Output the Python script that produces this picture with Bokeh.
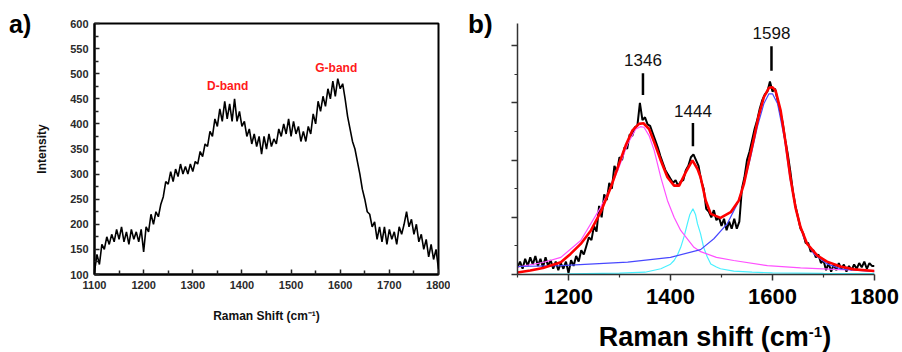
from bokeh.plotting import figure
from bokeh.layouts import row
from bokeh.models import Range1d, FixedTicker, Label, Div, CustomLabelingPolicy
from bokeh.embed import file_html
from bokeh.resources import INLINE

# ---------------- Panel a data ----------------
a_shift = list(range(1100, 1801, 5))
a_intensity = [
    105, 140, 120, 160, 150, 175, 160, 180, 165, 190,
    170, 195, 165, 185, 160, 190, 170, 185, 165, 190,
    145, 195, 185, 220, 200, 225, 215, 240, 255, 285,
    280, 305, 285, 310, 295, 320, 300, 315, 300, 320,
    305, 325, 320, 345, 335, 360, 355, 385, 375, 410,
    395, 430, 405, 445, 410, 440, 405, 450, 405, 425,
    395, 405, 375, 390, 360, 380, 355, 375, 340, 375,
    350, 380, 355, 370, 360, 390, 375, 400, 380, 410,
    375, 405, 380, 395, 365, 385, 365, 395, 380, 420,
    400, 445, 425, 455, 435, 470, 450, 485, 455, 490,
    470, 480, 450, 415, 390, 365, 350, 325, 300, 270,
    250, 225, 220, 195, 205, 170, 195, 165, 195, 160,
    190, 170, 185, 160, 195, 180, 200, 225, 195, 210,
    180, 200, 165, 180, 150, 170, 135, 160, 130, 150,
    110,
]
a_ticks = [1100, 1200, 1300, 1400, 1500, 1600, 1700, 1800]
a_minor = [1150, 1250, 1350, 1450, 1550, 1650, 1750]
a_yticks = [100, 150, 200, 250, 300, 350, 400, 450, 500, 550, 600]
a_yminor = [125, 175, 225, 275, 325, 375, 425, 475, 525, 575]
a_bands = ["D-band", "G-band"]
a_band_x = [1371, 1592]
a_band_y = [476, 511]

# ---------------- Panel b data ----------------
b_shift = list(range(1100, 1801, 5))
b_measured = [
    0.25, 0.45, 0.2, 0.55, 0.3, 0.6, 0.35, 0.65, 0.3, 0.55,
    0.25, 0.6, 0.3, 0.5, 0.2, 0.45, 0.15, 0.4, 0.2, 0.45,
    0.05, 0.5, 0.3, 0.65, 0.45, 0.85, 0.7, 1.0, 1.3, 1.2,
    1.7, 1.5, 2.4, 2.0, 2.8, 2.6, 3.2, 3.0, 3.8, 3.6,
    4.1, 4.0, 4.45, 4.4, 4.9, 4.85, 5.15, 5.2, 6.0, 5.4,
    5.5, 5.25, 5.2, 4.95, 4.7, 4.45, 4.15, 3.9, 3.65, 3.5,
    3.35, 3.2, 3.3, 3.1, 3.25, 3.3, 3.65, 3.8, 4.1, 4.2,
    4.0, 3.8, 3.3, 3.0, 2.3, 2.2, 2.0, 2.25, 1.9, 2.0,
    1.7, 1.95, 1.55, 1.85, 1.6, 1.95, 1.6, 1.85, 3.0, 3.4,
    4.0, 4.3, 4.7, 5.1, 5.4, 5.8, 6.1, 6.3, 6.4, 6.75,
    6.4, 6.5, 6.1, 5.7, 5.3, 4.7, 4.2, 3.6, 2.9, 2.4,
    2.0, 1.6, 1.45, 1.1, 1.1, 0.8, 0.85, 0.6, 0.7, 0.4,
    0.5, 0.15, 0.4, 0.1, 0.35, 0.15, 0.4, 0.2, 0.35, 0.1,
    0.3, 0.15, 0.35, 0.2, 0.4, 0.25, 0.45, 0.2, 0.4, 0.3,
    0.3,
]
fit_x = [1100, 1125, 1150, 1185, 1204, 1224, 1244, 1263, 1283, 1299,
         1312, 1325, 1338, 1347, 1358, 1368, 1381, 1394, 1407, 1417,
         1430, 1443, 1453, 1459, 1469, 1479, 1498, 1518, 1534, 1544,
         1554, 1564, 1573, 1583, 1593, 1600, 1606, 1616, 1626, 1635,
         1645, 1655, 1668, 1688, 1707, 1733, 1760, 1800]
fit_total = [0.07, 0.14, 0.23, 0.43, 0.72, 1.07, 1.54, 2.18, 3.05, 3.87,
             4.51, 5.03, 5.27, 5.29, 5.09, 4.63, 3.99, 3.40, 3.11, 3.11,
             3.58, 3.99, 3.69, 3.40, 2.59, 2.12, 1.98, 2.18, 2.59, 3.17,
             3.99, 4.80, 5.56, 6.20, 6.53, 6.55, 6.43, 5.73, 4.57, 3.40,
             2.35, 1.65, 1.07, 0.66, 0.45, 0.28, 0.18, 0.12]
d_x = [1100, 1150, 1185, 1224, 1263, 1283, 1299, 1316, 1332, 1341,
       1348, 1358, 1368, 1381, 1394, 1407, 1420, 1446, 1459, 1490,
       1524, 1590, 1655, 1733, 1800]
d_fit = [0.26, 0.42, 0.6, 1.19, 2.35, 3.05, 3.75, 4.57, 5.09, 5.17,
         5.15, 4.86, 4.34, 3.40, 2.59, 2.0, 1.54, 0.95, 0.8, 0.6,
         0.49, 0.31, 0.23, 0.17, 0.14]
m_x = [1100, 1200, 1300, 1350, 1381, 1400, 1407, 1414, 1420, 1427,
       1433, 1438, 1444, 1449, 1453, 1459, 1465, 1472, 1479, 1490,
       1498, 1524, 1560, 1600, 1700, 1800]
m_fit = [0.0, 0.02, 0.05, 0.08, 0.2, 0.36, 0.49, 0.7, 0.95, 1.35,
         1.77, 2.1, 2.3, 2.1, 1.77, 1.42, 0.95, 0.62, 0.37, 0.26,
         0.2, 0.12, 0.08, 0.06, 0.04, 0.03]
g_x = [1100, 1185, 1316, 1400, 1459, 1485, 1511, 1531, 1544, 1557,
       1570, 1583, 1593, 1600, 1610, 1623, 1635, 1648, 1661, 1681,
       1707, 1733, 1800]
g_fit = [0.28, 0.31, 0.43, 0.6, 0.87, 1.25, 1.77, 2.47, 3.17, 4.10,
         5.15, 5.97, 6.32, 6.32, 5.97, 4.80, 3.29, 2.12, 1.30, 0.72,
         0.37, 0.2, 0.1]
peak_pos = [1346, 1444, 1598]
peak_names = ["1346", "1444", "1598"]
peak_mark_low = [6.28, 4.49, 7.13]
peak_mark_high = [7.04, 5.30, 7.98]
peak_text_y = [7.52, 5.73, 8.45]
b_ticks = [1200, 1400, 1600, 1800]
b_minor = [1100, 1300, 1500, 1700]
b_yticks = [0, 2, 4, 6, 8]
b_yminor = [1, 3, 5, 7]
panel_tags = ["a)", "b)"]
b_axis_title = "Raman shift (cm<sup style=\"font-size:15px; vertical-align:9px; line-height:1\">-1</sup>)"

FONT = "Liberation Sans"

# ---------------- Panel a ----------------
pa = figure(width=450, height=352, x_range=Range1d(1100, 1800), y_range=Range1d(100, 600),
            output_backend="svg", toolbar_location=None,
            min_border_left=94, min_border_right=12, min_border_top=22, min_border_bottom=77)
pa.grid.visible = False
pa.outline_line_color = "black"
pa.outline_line_width = 2
pa.outline_line_alpha = 1.0
pa.background_fill_color = "white"
pa.border_fill_color = "white"

pa.xaxis.ticker = FixedTicker(ticks=a_ticks, minor_ticks=a_minor)
pa.yaxis.ticker = FixedTicker(ticks=a_yticks, minor_ticks=a_yminor)
for ax in (pa.xaxis[0], pa.yaxis[0]):
    ax.axis_line_width = 2
    ax.axis_line_color = "black"
    ax.major_tick_in = 5
    ax.major_tick_out = 0
    ax.minor_tick_in = 4
    ax.minor_tick_out = 0
    ax.major_tick_line_width = 1.5
    ax.minor_tick_line_width = 1.5
    ax.major_tick_line_color = "#222222"
    ax.minor_tick_line_color = "#222222"
    ax.major_label_text_font = FONT
    ax.major_label_text_font_style = "bold"
    ax.major_label_text_font_size = "11px"
    ax.major_label_text_color = "#2a2a2a"
    ax.major_label_standoff = 6
    ax.axis_label_text_font = FONT
    ax.axis_label_text_font_style = "bold"
    ax.axis_label_text_font_size = "12px"
    ax.axis_label_text_color = "#111111"
pa.xaxis.axis_label = "Raman Shift (cm⁻¹)"
pa.yaxis.axis_label = "Intensity"
pa.xaxis.axis_label_standoff = 17
pa.yaxis.axis_label_standoff = 18

pa.line(a_shift, a_intensity, line_color="black", line_width=1.6)

for name, bx, by in zip(a_bands, a_band_x, a_band_y):
    pa.add_layout(Label(x=bx, y=by, text=name, text_align="center", text_baseline="middle",
                        text_color="#ff1a1a", text_font=FONT, text_font_style="bold",
                        text_font_size="12px"))

# ---------------- Panel b ----------------
pb = figure(width=452, height=352, x_range=Range1d(1100, 1800), y_range=Range1d(0, 8.78),
            output_backend="svg", toolbar_location=None,
            min_border_left=67, min_border_right=28, min_border_top=23, min_border_bottom=78)
pb.grid.visible = False
pb.outline_line_color = None
pb.background_fill_color = "white"
pb.border_fill_color = "white"

pb.xaxis.ticker = FixedTicker(ticks=b_ticks, minor_ticks=b_minor)
pb.yaxis.ticker = FixedTicker(ticks=b_yticks, minor_ticks=b_yminor)
for ax in (pb.xaxis[0], pb.yaxis[0]):
    ax.axis_line_width = 1.5
    ax.axis_line_color = "#333333"
    ax.major_tick_in = 0
    ax.major_tick_out = 6
    ax.minor_tick_in = 0
    ax.minor_tick_out = 3
    ax.major_tick_line_width = 1.5
    ax.minor_tick_line_width = 1.2
    ax.major_tick_line_color = "#333333"
    ax.minor_tick_line_color = "#333333"
# the right-hand panel shows ticks but no tick numbers on its intensity axis
pb.yaxis.major_label_policy = CustomLabelingPolicy(
    code="for (const i of indices) { indices.unset(i) }\nreturn indices")
pb.xaxis.major_label_text_font = FONT
pb.xaxis.major_label_text_font_style = "bold"
pb.xaxis.major_label_text_font_size = "22px"
pb.xaxis.major_label_text_color = "black"
pb.xaxis.major_label_standoff = 8

pb.line(b_shift, b_measured, line_color="black", line_width=2)
pb.line(m_x, m_fit, line_color="#48f0ff", line_width=1.2)
pb.line(d_x, d_fit, line_color="#ff50ff", line_width=1.2)
pb.line(g_x, g_fit, line_color="#4848ff", line_width=1.2)
pb.line(fit_x, fit_total, line_color="#ff0000", line_width=2.6)

pb.segment(x0=peak_pos, y0=peak_mark_low, x1=peak_pos, y1=peak_mark_high,
           line_color="black", line_width=2.5)
for name, px, py in zip(peak_names, peak_pos, peak_text_y):
    pb.add_layout(Label(x=px, y=py, text=name, text_align="center", text_baseline="middle",
                        text_color="#111111", text_font=FONT, text_font_size="17px"))

# panel letters and the large axis title of panel b sit partly outside the plot frames,
# so they are placed as page text on top of the figures
base_style = {"position": "absolute", "font-family": "'Liberation Sans', Arial, sans-serif",
              "font-weight": "bold", "line-height": "1", "color": "black", "z-index": "10",
              "margin": "0", "padding": "0", "white-space": "nowrap"}
tag_a = Div(text=panel_tags[0], styles=dict(base_style, left="9px", top="12px", **{"font-size": "25px"}))
tag_b = Div(text=panel_tags[1], styles=dict(base_style, left="468px", top="11px", **{"font-size": "26px"}))
title_b = Div(text=b_axis_title,
              styles=dict(base_style, left="555px", top="324px", width="320px",
                          **{"font-size": "27px", "text-align": "center"}))

layout = row(pa, pb, tag_a, tag_b, title_b)
open("out.html", "w").write(file_html(layout, INLINE))
